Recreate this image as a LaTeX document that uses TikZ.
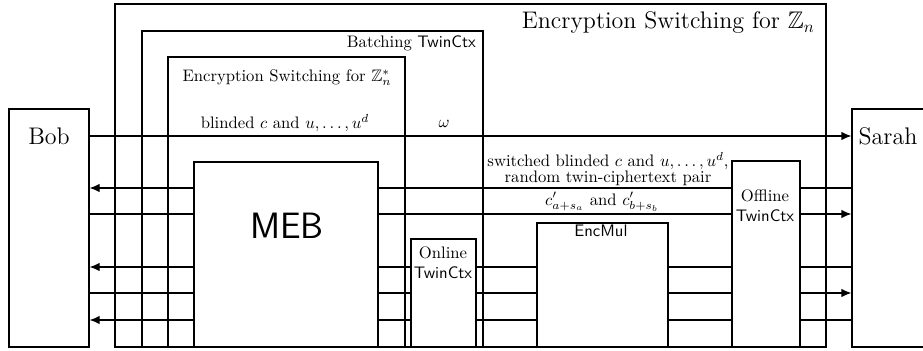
\documentclass[tikz,border=0pt]{standalone}
\usepackage{amssymb}
\usetikzlibrary{fit,arrows.meta}
\begin{document}
\begin{tikzpicture}[x=0.6pt,y=-0.6pt,line width=0.65pt,
  blk/.style={draw,inner sep=0pt,line width=0.65pt},
  arr/.style={-{Latex[length=6pt,width=5pt]}},
  txt/.style={inner sep=1pt}]
\useasboundingbox (0,0) rectangle (923,350);
% boxes
\node[blk,fit={(115,4) (826,347)}] (esn) {};
\node[blk,fit={(142,31) (483,347)}] (batch) {};
\node[blk,fit={(168,57) (405,347)}] (esz) {};
\node[blk,fit={(194,162) (378,347)}] (meb) {};
\node[blk,fit={(411,239) (476,347)}] (online) {};
\node[blk,fit={(537,223) (668,347)}] (encmul) {};
\node[blk,fit={(732,161) (800,347)}] (offline) {};
\node[blk,fit={(9,109) (89,347)}] (bob) {};
\node[blk,fit={(852,109) (932,347)}] (sarah) {};
% texts
\node[txt,font=\Large,anchor=east] (tesn) at (817,23) {Encryption Switching for $\mathbb{Z}_n$};
\node[txt,anchor=east] (tbatch) at (478,43) {Batching \textsf{TwinCtx}};
\node[txt] (tesz) at (287,78) {Encryption Switching for $\mathbb{Z}_n^*$};
\node[txt] (tblind) at (285,123) {blinded $c$ and $u,\ldots,u^d$};
\node[txt] (tomega) at (444,124) {$\omega$};
\node[txt,align=center,font=\fontsize{10}{8.6}\selectfont] (tsw) at (608,169) {switched blinded $c$ and $u,\ldots,u^d$,\\ random twin-ciphertext pair};
\node[txt] (tc) at (602,202) {$c'_{a+s_a}$ and $c'_{b+s_b}$};
\node[txt,font=\fontsize{22}{24}\selectfont\sffamily] (tmeb) at (287,226) {MEB};
\node[txt,align=center] (tonline) at (443,263) {Online\\\textsf{TwinCtx}};
\node[txt] (tencmul) at (601,231) {\textsf{EncMul}};
\node[txt,align=center] (toffline) at (765,206) {Offline\\\textsf{TwinCtx}};
\node[txt,font=\Large] (tbob) at (49,136) {Bob};
\node[txt,font=\Large] (tsarah) at (888,136) {Sarah};
% levels
\coordinate (r0) at (0,136);
\coordinate (r1) at (0,188);
\coordinate (r2) at (0,214);
\coordinate (r3) at (0,267);
\coordinate (r4) at (0,293);
\coordinate (r5) at (0,320);
% connectors
\draw[arr] (bob.east |- r0) -- (sarah.west |- r0);
\draw[arr] (meb.west |- r1) -- (bob.east |- r1);
\draw (meb.east |- r1) -- (offline.west |- r1);
\draw (offline.east |- r1) -- (sarah.west |- r1);
\draw (bob.east |- r2) -- (meb.west |- r2);
\draw (meb.east |- r2) -- (offline.west |- r2);
\draw[arr] (offline.east |- r2) -- (sarah.west |- r2);
\foreach \r in {r3,r4,r5}{
  \draw (meb.east |- \r) -- (online.west |- \r);
  \draw (online.east |- \r) -- (encmul.west |- \r);
  \draw (encmul.east |- \r) -- (offline.west |- \r);
}
\draw[arr] (meb.west |- r3) -- (bob.east |- r3);
\draw (offline.east |- r3) -- (sarah.west |- r3);
\draw (bob.east |- r4) -- (meb.west |- r4);
\draw[arr] (offline.east |- r4) -- (sarah.west |- r4);
\draw[arr] (meb.west |- r5) -- (bob.east |- r5);
\draw (offline.east |- r5) -- (sarah.west |- r5);
\end{tikzpicture}
\end{document}
